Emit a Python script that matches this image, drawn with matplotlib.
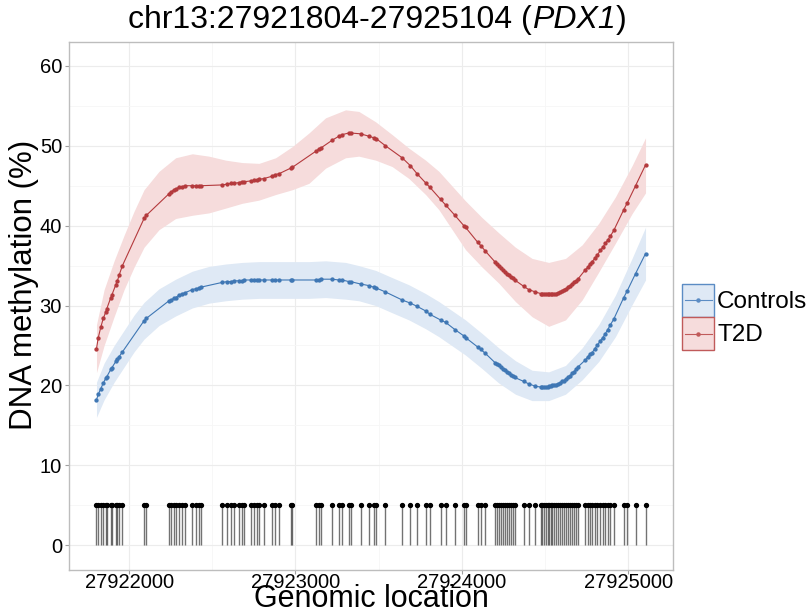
import matplotlib
matplotlib.use('Agg')
import matplotlib.pyplot as plt
from matplotlib.patches import Rectangle
from matplotlib.lines import Line2D
from matplotlib.legend_handler import HandlerBase
from matplotlib.offsetbox import TextArea, HPacker, AnchoredOffsetbox

plt.rcParams['font.family'] = ['Liberation Sans', 'DejaVu Sans']

# ---------------- data ----------------
cpg_pos = [27921804, 27921815, 27921830, 27921845, 27921860, 27921866, 27921890, 27921896, 27921920, 27921930, 27921940, 27921960,
           27922090, 27922104,
           27922240, 27922250, 27922270, 27922280, 27922300, 27922320, 27922336, 27922380, 27922400, 27922420, 27922431,
           27922560, 27922590, 27922611, 27922631, 27922661, 27922677, 27922691, 27922731, 27922751, 27922771, 27922781,
           27922811, 27922861, 27922877, 27922901, 27922971, 27922981,
           27923121, 27923141, 27923151, 27923221, 27923261, 27923281, 27923321, 27923331, 27923391, 27923441, 27923471,
           27923485, 27923541,
           27923641, 27923691, 27923731, 27923785, 27923808, 27923872, 27923902, 27923958, 27924012, 27924022, 27924096,
           27924114, 27924142,
           27924202, 27924210, 27924222, 27924234, 27924246, 27924258, 27924270, 27924282, 27924294, 27924306, 27924318,
           27924372, 27924402, 27924442,
           27924474, 27924482, 27924492, 27924504, 27924516, 27924522, 27924534, 27924543, 27924552, 27924564, 27924576,
           27924589, 27924601, 27924613, 27924625, 27924637, 27924649, 27924661, 27924673, 27924685, 27924697,
           27924743, 27924757, 27924769, 27924783, 27924799, 27924813, 27924833, 27924847, 27924863, 27924877, 27924893,
           27924913,
           27924973, 27924993, 27925044, 27925104]

t2d = [24.6, 26.0, 27.3, 28.4, 29.2, 29.6, 31.0, 31.3, 32.6, 33.1, 33.8, 35.0,
       40.9, 41.3,
       44.0, 44.2, 44.5, 44.6, 44.8, 44.9, 45.0, 45.0, 45.0, 45.0, 45.0,
       45.1, 45.2, 45.3, 45.3, 45.4, 45.5, 45.5, 45.6, 45.7, 45.7, 45.8, 45.9, 46.2, 46.4, 46.5, 47.2, 47.3,
       49.3, 49.6, 49.7, 50.7, 51.2, 51.4, 51.6, 51.6, 51.5, 51.2, 51.0, 50.9, 50.0,
       48.5, 47.5, 46.5, 45.3, 44.8, 43.3, 42.6, 41.3, 40.0, 39.8, 37.9, 37.5, 36.8,
       35.4, 35.2, 35.0, 34.7, 34.4, 34.2, 34.0, 33.8, 33.6, 33.4, 33.2,
       32.4, 32.0, 31.7,
       31.5, 31.45, 31.4, 31.4, 31.4, 31.4, 31.4, 31.4, 31.5, 31.5, 31.6, 31.7, 31.8, 32.0, 32.1, 32.3, 32.5, 32.7,
       32.9, 33.1, 33.3,
       34.5, 34.8, 35.2, 35.5, 35.9, 36.3, 36.9, 37.3, 37.8, 38.2, 38.7, 39.4,
       42.0, 42.8, 45.0, 47.6]

controls = [18.2, 18.9, 19.6, 20.3, 20.9, 21.1, 22.0, 22.2, 23.0, 23.3, 23.6, 24.2,
            28.1, 28.4,
            30.6, 30.7, 30.9, 31.0, 31.3, 31.5, 31.6, 32.0, 32.1, 32.2, 32.3,
            32.9, 33.0, 33.0, 33.1, 33.1, 33.1, 33.2, 33.2, 33.2, 33.2, 33.2, 33.2, 33.2, 33.2, 33.2, 33.2, 33.2,
            33.2, 33.2, 33.3, 33.3, 33.2, 33.2, 33.0, 33.0, 32.7, 32.5, 32.3, 32.2, 31.7,
            30.7, 30.3, 29.9, 29.3, 28.9, 28.2, 27.9, 27.0, 26.2, 26.0, 24.8, 24.5, 24.0,
            22.8, 22.7, 22.5, 22.3, 22.1, 21.9, 21.7, 21.5, 21.3, 21.2, 21.0,
            20.5, 20.2, 19.9,
            19.8, 19.8, 19.8, 19.8, 19.8, 19.9, 19.9, 20.0, 20.0, 20.1, 20.2, 20.3, 20.5, 20.6, 20.8, 21.0, 21.2, 21.5,
            21.7, 22.0, 22.3,
            23.2, 23.6, 23.9, 24.1, 24.6, 25.0, 25.6, 26.0, 26.5, 27.0, 27.6, 28.3,
            31.0, 31.8, 34.0, 36.5]

band_pos = [27921804, 27921850, 27921910, 27921970, 27922030, 27922090, 27922180, 27922280, 27922380, 27922480,
            27922581, 27922680, 27922781, 27922881, 27922981, 27923081, 27923181, 27923301, 27923381, 27923482,
            27923581, 27923682, 27923782, 27923862, 27924022, 27924122, 27924222, 27924322, 27924422, 27924522,
            27924623, 27924723, 27924823, 27924923, 27925023, 27925104]
t2d_hi = [27.6, 32.0, 35.6, 38.8, 41.8, 44.5, 46.8, 48.5, 49.0, 48.7,
          48.2, 47.9, 47.8, 48.5, 49.9, 51.6, 53.5, 54.5, 54.3, 53.0,
          51.4, 49.7, 48.2, 46.8, 43.1, 41.0, 39.1, 37.3, 35.9, 35.4,
          35.9, 37.6, 40.3, 43.6, 47.5, 51.0]
t2d_lo = [21.6, 25.0, 28.6, 32.0, 34.8, 37.3, 39.5, 40.9, 41.3, 41.6,
          42.2, 42.8, 43.2, 43.9, 44.5, 45.3, 47.2, 48.5, 48.7, 48.2,
          47.4, 45.9, 43.9, 42.0, 37.0, 34.8, 32.8, 30.5, 28.6, 27.4,
          28.2, 30.7, 34.2, 37.8, 41.5, 44.1]
ctrl_hi = [20.4, 22.8, 25.0, 26.9, 28.8, 30.4, 32.1, 33.3, 34.3, 34.9,
           35.2, 35.4, 35.5, 35.5, 35.5, 35.5, 35.6, 35.4, 35.0, 34.4,
           33.5, 32.6, 31.5, 30.5, 28.2, 26.5, 24.7, 23.1, 21.9, 21.7,
           22.5, 24.7, 27.6, 31.3, 35.9, 39.8]
ctrl_lo = [16.0, 18.2, 20.4, 22.3, 24.2, 25.8, 27.5, 28.7, 29.7, 30.3,
           30.6, 30.8, 30.9, 30.9, 30.9, 30.9, 31.0, 30.8, 30.6, 30.0,
           29.1, 28.2, 27.1, 26.1, 23.8, 22.1, 20.3, 18.9, 18.1, 18.1,
           18.9, 20.7, 23.0, 26.1, 30.1, 33.2]

rug_height = 5
x_ticks = [27922000, 27923000, 27924000, 27925000]
x_minor = [27922500, 27923500, 27924500]
y_ticks = [0, 10, 20, 30, 40, 50, 60]
y_minor = [5, 15, 25, 35, 45, 55]
series_names = ['Controls', 'T2D']
title_parts = ['chr13:27921804-27925104 (', 'PDX1', ')']

# ---------------- style ----------------
RED = '#b43a3d'
RED_BAND = '#f6dcdc'
BLUE = '#3f77b4'
BLUE_BAND = '#dfe9f5'

fig = plt.figure(figsize=(8.12, 6.14), dpi=100)
ax = fig.add_axes([0.085, 0.0717, 0.7438, 0.86])
ax.set_axisbelow(True)

ax.fill_between(band_pos, ctrl_lo, ctrl_hi, color=BLUE_BAND, lw=0, zorder=1)
ax.fill_between(band_pos, t2d_lo, t2d_hi, color=RED_BAND, lw=0, zorder=1)
ax.plot(cpg_pos, controls, '-o', color=BLUE, lw=0.8, ms=2.1, zorder=3)
ax.plot(cpg_pos, t2d, '-o', color=RED, lw=0.8, ms=2.1, zorder=3)

ax.vlines(cpg_pos, 0, rug_height, colors='black', alpha=0.55, lw=1.0, zorder=2)
ax.plot(cpg_pos, [rug_height] * len(cpg_pos), 'o', color='black', ms=2.8, lw=0, zorder=2)

ax.set_xlim(27921639, 27925269)
ax.set_ylim(-3.1, 63.0)
ax.set_xticks(x_ticks)
ax.set_xticklabels([str(v) for v in x_ticks])
ax.set_xticks(x_minor, minor=True)
ax.set_yticks(y_ticks)
ax.set_yticklabels([str(v) for v in y_ticks])
ax.set_yticks(y_minor, minor=True)

ax.grid(which='major', color='#ececec', lw=0.8)
ax.grid(which='minor', color='#f6f6f6', lw=0.6)
for s in ax.spines.values():
    s.set_color('#bdbdbd')
    s.set_linewidth(1.0)
ax.tick_params(which='major', length=3, width=0.8, color='#a0a0a0', labelsize=14.5,
               labelcolor='black')
ax.tick_params(axis='x', which='major', pad=-0.5)
ax.tick_params(axis='y', which='major', pad=2)
ax.tick_params(which='minor', length=0)

ax.set_xlabel('Genomic location', fontsize=22)
ax.xaxis.label.set_va('baseline')
ax.xaxis.set_label_coords(0.5, -0.0705)
ax.set_ylabel('DNA methylation (%)', fontsize=22.5)
ax.yaxis.set_label_coords(-0.05, 0.54)

tp = [TextArea(title_parts[0], textprops=dict(fontsize=23)),
      TextArea(title_parts[1], textprops=dict(fontsize=23, style='italic')),
      TextArea(title_parts[2], textprops=dict(fontsize=23))]
title_box = HPacker(children=tp, align='baseline', pad=0, sep=0)
ax.add_artist(AnchoredOffsetbox(loc='lower center', child=title_box, pad=0, borderpad=0, frameon=False,
                                bbox_to_anchor=(0.51, 1.013), bbox_transform=ax.transAxes))


class BandKey(HandlerBase):
    def create_artists(self, legend, orig_handle, xdescent, ydescent, width, height, fontsize, trans):
        fill, edge = orig_handle
        x0, y0 = -xdescent, -ydescent
        rect = Rectangle((x0, y0), width, height, facecolor=fill, edgecolor=edge, lw=1.0, transform=trans)
        ym = y0 + height / 2
        ln = Line2D([x0 + width * 0.08, x0 + width * 0.92], [ym, ym], color=edge, lw=0.8, transform=trans)
        pt = Line2D([x0 + width / 2], [ym], marker='o', ms=2.2, color=edge, lw=0, transform=trans)
        return [rect, ln, pt]


class Key:
    def __init__(self, fill, edge):
        self.fill, self.edge = fill, edge

    def __iter__(self):
        return iter((self.fill, self.edge))


handles = [Key(BLUE_BAND, '#5b8cc4'), Key(RED_BAND, '#c05a5a')]
fig.legend(handles, series_names, handler_map={Key: BandKey()},
           loc='center left', bbox_to_anchor=(0.840, 0.4837), bbox_transform=fig.transFigure,
           frameon=False, fontsize=17.5, handlelength=1.32, handleheight=1.72,
           handletextpad=0.12, labelspacing=0.0, borderpad=0, borderaxespad=0)

fig.savefig('out.png', dpi=100)
